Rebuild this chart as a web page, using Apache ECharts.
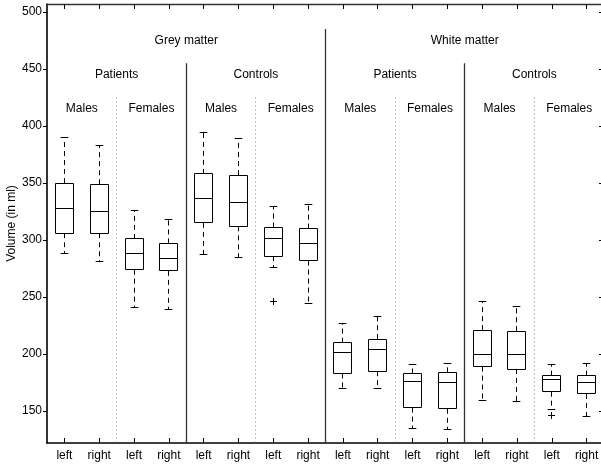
<!DOCTYPE html>
<html>
<head>
<meta charset="utf-8">
<script src="https://cdn.jsdelivr.net/npm/echarts@6/dist/echarts.min.js"></script>
<style>
html,body{margin:0;padding:0;background:#fff;}
#chart{width:601px;height:464px;}
</style>
</head>
<body>
<div id="chart"></div>
<script>
// ---- data ----
var categories = ['left','right','left','right','left','right','left','right',
                  'left','right','left','right','left','right','left','right'];
var tissues = ['Grey matter', 'White matter'];
var groups = ['Patients', 'Controls'];
var sexes = ['Males', 'Females'];
var yTicks = [150, 200, 250, 300, 350, 400, 450, 500];

var whiskerLow  = [288, 281, 241, 239, 287, 285, 276, 244, 170, 170, 135, 134, 159, 158, 151, 145];
var q1          = [306, 306, 274, 273, 315, 312, 286, 282, 183, 185, 153, 152, 189, 187, 167, 165];
var medians     = [328, 325, 288, 284, 336, 333, 301, 297, 201, 204, 176, 175, 200, 200, 178, 175];
var q3          = [350, 349, 301, 297, 358, 357, 311, 310, 210, 213, 183, 184, 221, 220, 181, 181];
var whiskerHigh = [390, 383, 326, 318, 394, 389, 329, 331, 227, 233, 191, 192, 246, 242, 191, 192];
var outliers    = [[6, 246], [14, 146]];

// ---- build ----
var boxData = categories.map(function (c, i) {
  return [i, whiskerLow[i], q1[i], medians[i], q3[i], whiskerHigh[i]];
});

var yMin = 122, yMax = 507;

// annotations: [xPos (category index, may be fractional), y, text]
var annots = [];
tissues.forEach(function (t, ti) { annots.push([ti * 8 + 3.5, 475, t]); });
for (var ti = 0; ti < 2; ti++) {
  for (var gi = 0; gi < 2; gi++) {
    annots.push([ti * 8 + gi * 4 + 1.5, 445, groups[gi]]);
    for (var si = 0; si < 2; si++) {
      annots.push([ti * 8 + gi * 4 + si * 2 + 0.5, 415, sexes[si]]);
    }
  }
}
// separators: [xPos, yTop, type]
var seps = [[7.5, 485, 'solid'], [3.5, 455, 'solid'], [11.5, 455, 'solid'],
            [1.5, 425, 'dot'], [5.5, 425, 'dot'], [9.5, 425, 'dot'], [13.5, 425, 'dot']];

function xAt(api, pos, y) {
  var a = Math.floor(pos), b = Math.ceil(pos);
  var pa = api.coord([a, y]), pb = api.coord([b, y]);
  return pa[0] + (pb[0] - pa[0]) * (pos - a);
}
function s(v) { return Math.round(v - 0.5) + 0.5; }

var FONT = '"Liberation Sans", Arial, Helvetica, sans-serif';

var chart = echarts.init(document.getElementById('chart'), null, {renderer: 'canvas'});
chart.setOption({
  animation: false,
  backgroundColor: '#fff',
  grid: {left: 47, top: 4, width: 557, height: 439, containLabel: false, outerBoundsMode: 'none'},
  xAxis: [{
    type: 'category', data: categories, position: 'bottom',
    axisLine: {show: true, lineStyle: {color: '#000', width: 1.6}},
    axisTick: {show: true, inside: true, length: 5, alignWithLabel: true, lineStyle: {color: '#000'}},
    axisLabel: {color: '#000', fontSize: 12, fontFamily: FONT, margin: 7, interval: 0},
    splitLine: {show: false}
  }, {
    type: 'category', data: categories, position: 'top',
    axisLine: {show: true, lineStyle: {color: '#333', width: 1.4}},
    axisTick: {show: true, inside: true, length: 5, alignWithLabel: true, lineStyle: {color: '#000'}},
    axisLabel: {show: false}, splitLine: {show: false}
  }],
  yAxis: [{
    type: 'value', min: yMin, max: yMax, position: 'left',
    name: 'Volume (in ml)', nameLocation: 'middle', nameGap: 29, nameMoveOverlap: false,
    nameTextStyle: {color: '#000', fontSize: 12, fontFamily: FONT},
    axisLine: {show: true, lineStyle: {color: '#000', width: 1.6}},
    axisTick: {show: true, inside: false, length: 4, customValues: yTicks, lineStyle: {color: '#000'}},
    axisLabel: {color: '#000', fontSize: 12, fontFamily: FONT, margin: 5, customValues: yTicks},
    splitLine: {show: false}
  }, {
    type: 'value', min: yMin, max: yMax, position: 'right',
    axisLine: {show: true, lineStyle: {color: '#333', width: 1.4}},
    axisTick: {show: true, inside: true, length: 5, customValues: yTicks, lineStyle: {color: '#000'}},
    axisLabel: {show: false}, splitLine: {show: false}
  }],
  series: [
    {
      type: 'custom', xAxisIndex: 0, yAxisIndex: 0, silent: true,
      data: seps.map(function (d) { return [d[0], d[1]]; }),
      renderItem: function (params, api) {
        var d = seps[params.dataIndex];
        var x = s(xAt(api, d[0], d[1]));
        var yt = api.coord([0, d[1]])[1];
        var yb = api.coord([0, yMin])[1];
        var solid = d[2] === 'solid';
        return {
          type: 'line',
          shape: {x1: x, y1: yt, x2: x, y2: yb},
          style: solid ? {stroke: '#333', lineWidth: 1.3}
                       : {stroke: '#888', lineWidth: 1, lineDash: [1, 3]}
        };
      }
    },
    {
      type: 'custom', xAxisIndex: 0, yAxisIndex: 0, silent: true,
      data: annots.map(function (d) { return [d[0], d[1]]; }),
      renderItem: function (params, api) {
        var d = annots[params.dataIndex];
        var x = xAt(api, d[0], d[1]);
        var y = api.coord([0, d[1]])[1];
        return {
          type: 'text',
          x: x, y: y,
          style: {text: d[2], fill: '#000', font: '12px ' + FONT, align: 'center', verticalAlign: 'middle'}
        };
      }
    },
    {
      type: 'custom', xAxisIndex: 0, yAxisIndex: 0, silent: true,
      data: boxData,
      encode: {x: 0, y: [1, 2, 3, 4, 5]},
      renderItem: function (params, api) {
        var i = api.value(0);
        var pLo = api.coord([i, api.value(1)]);
        var pQ1 = api.coord([i, api.value(2)]);
        var pMd = api.coord([i, api.value(3)]);
        var pQ3 = api.coord([i, api.value(4)]);
        var pHi = api.coord([i, api.value(5)]);
        var bw = api.size([1, 0])[0];
        var half = bw * 0.255, cap = bw * 0.11;
        var x = s(pMd[0]);
        var st = {stroke: '#000', lineWidth: 1, fill: null};
        var dash = {stroke: '#000', lineWidth: 1, lineDash: [5, 4]};
        return {
          type: 'group',
          children: [
            {type: 'line', shape: {x1: x, y1: pQ3[1], x2: x, y2: pHi[1]}, style: dash},
            {type: 'line', shape: {x1: x, y1: pQ1[1], x2: x, y2: pLo[1]}, style: dash},
            {type: 'line', shape: {x1: x - cap, y1: s(pHi[1]), x2: x + cap, y2: s(pHi[1])}, style: st},
            {type: 'line', shape: {x1: x - cap, y1: s(pLo[1]), x2: x + cap, y2: s(pLo[1])}, style: st},
            {type: 'rect', shape: {x: s(x - half), y: s(pQ3[1]), width: Math.round(2 * half), height: Math.round(pQ1[1] - pQ3[1])},
             style: {stroke: '#000', lineWidth: 1, fill: 'rgba(0,0,0,0)'}},
            {type: 'line', shape: {x1: s(x - half), y1: s(pMd[1]), x2: s(x - half) + Math.round(2 * half), y2: s(pMd[1])}, style: st}
          ]
        };
      }
    },
    {
      type: 'custom', xAxisIndex: 0, yAxisIndex: 0, silent: true,
      data: outliers,
      renderItem: function (params, api) {
        var p = api.coord([api.value(0), api.value(1)]);
        var x = s(p[0]), y = s(p[1]), r = 3.5;
        var st = {stroke: '#000', lineWidth: 1};
        return {
          type: 'group',
          children: [
            {type: 'line', shape: {x1: x - r, y1: y, x2: x + r, y2: y}, style: st},
            {type: 'line', shape: {x1: x, y1: y - r, x2: x, y2: y + r}, style: st}
          ]
        };
      }
    }
  ]
});
</script>
</body>
</html>
